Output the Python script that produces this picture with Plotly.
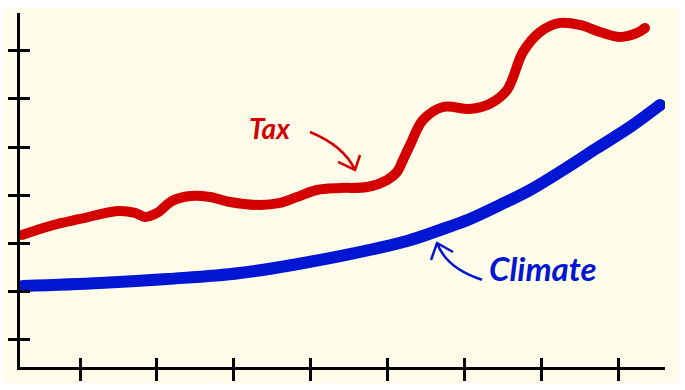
import plotly.graph_objects as go

# ---- data ----
tax_x = [0.245, 0.610, 1.000, 1.494, 1.716, 1.846, 2.002, 2.197, 2.431, 2.691, 2.952, 3.342,
         3.602, 3.823, 4.083, 4.383, 4.734, 4.994, 5.124, 5.202, 5.294, 5.463, 5.723, 6.074,
         6.334, 6.556, 6.764, 6.985, 7.245, 7.505, 7.765, 8.026, 8.247, 8.351]
tax_y = [3.177, 3.364, 3.509, 3.675, 3.634, 3.551, 3.634, 3.882, 3.986, 3.965, 3.861, 3.799,
         3.841, 3.965, 4.110, 4.151, 4.172, 4.317, 4.483, 4.732, 5.043, 5.562, 5.831, 5.790,
         5.900, 6.184, 6.972, 7.387, 7.574, 7.532, 7.387, 7.283, 7.366, 7.470]

climate_x = [0.258, 1.260, 2.132, 3.082, 4.383, 5.255, 5.684, 6.074, 6.465, 6.855, 7.284,
             7.727, 8.156, 8.546]
climate_y = [2.119, 2.182, 2.265, 2.389, 2.741, 3.053, 3.281, 3.509, 3.800, 4.110, 4.525,
             4.981, 5.416, 5.873]

x_ticks = [1, 2, 3, 4, 5, 6, 7, 8]
y_ticks = [1, 2, 3, 4, 5, 6, 7]
x_range = [0.219, 8.611]
y_range = [0.44, 7.78]

labels = ["Tax", "Climate"]
label_pos = [(3.47, 5.40), (7.02, 2.50)]

RED = "#d40000"
BLUE = "#0016d2"
CREAM = "#fffdea"

fig = go.Figure()

# Climate line (x / y)
fig.add_trace(go.Scatter(x=climate_x, y=climate_y, mode="lines", line=dict(color=BLUE, width=12, shape="spline"),
                         hoverinfo="skip", xaxis="x", yaxis="y"))
fig.add_trace(go.Scatter(x=[climate_x[0], climate_x[-1]], y=[climate_y[0], climate_y[-1]], mode="markers",
                         marker=dict(color=BLUE, size=12), hoverinfo="skip", xaxis="x", yaxis="y"))

# Tax line (overlay axes x2 / y2 that carry the inner half of the ticks)
fig.add_trace(go.Scatter(x=tax_x, y=tax_y, mode="lines", line=dict(color=RED, width=10, shape="spline"),
                         hoverinfo="skip", xaxis="x2", yaxis="y2"))
fig.add_trace(go.Scatter(x=[tax_x[0], tax_x[-1]], y=[tax_y[0], tax_y[-1]], mode="markers",
                         marker=dict(color=RED, size=10), hoverinfo="skip", xaxis="x2", yaxis="y2"))

common = dict(showgrid=False, zeroline=False, showticklabels=False, tickwidth=3, tickcolor="black",
              automargin=False)
fig.update_layout(
    width=685, height=390, autosize=False, showlegend=False,
    margin=dict(l=20, r=20, t=13, b=23),
    paper_bgcolor="white", plot_bgcolor=CREAM,
    xaxis=dict(range=x_range, tickvals=x_ticks, ticks="outside", ticklen=11,
               showline=True, linewidth=3, linecolor="black", **common),
    yaxis=dict(range=y_range, tickvals=y_ticks, ticks="outside", ticklen=9,
               showline=True, linewidth=3, linecolor="black", **common),
    xaxis2=dict(range=x_range, tickvals=x_ticks, ticks="inside", ticklen=9, overlaying="x",
                anchor="y2", side="bottom", showline=False, **common),
    yaxis2=dict(range=y_range, tickvals=y_ticks, ticks="inside", ticklen=10, overlaying="y",
                anchor="x2", side="left", showline=False, **common),
)

# cream panel
fig.add_shape(type="rect", xref="paper", yref="paper", x0=-0.0264, x1=1.0217, y0=-0.0452, y1=1.0141,
              fillcolor=CREAM, line=dict(width=0), layer="below")

# curved arrows
fig.add_shape(type="path", xref="x", yref="y",
              path="M 3.992 5.313 Q 4.435 5.024 4.578 4.525 M 4.357 4.691 L 4.578 4.525 L 4.643 4.836",
              line=dict(color=RED, width=2.5))
fig.add_shape(type="path", xref="x", yref="y",
              path="M 6.230 2.248 Q 5.762 2.493 5.645 3.011 M 5.567 2.659 L 5.645 3.011 L 5.853 2.825",
              line=dict(color=BLUE, width=2.5))

for txt, (ax, ay), col, size in zip(labels, label_pos, [RED, BLUE], [28, 33]):
    fig.add_annotation(x=ax, y=ay, xref="x", yref="y", text=txt, showarrow=False,
                       font=dict(family="Lato", size=size, color=col, weight="bold", style="italic"))

fig.write_html("out.html", config={"displayModeBar": False, "staticPlot": True},
               post_script="document.body.style.margin='0';")
